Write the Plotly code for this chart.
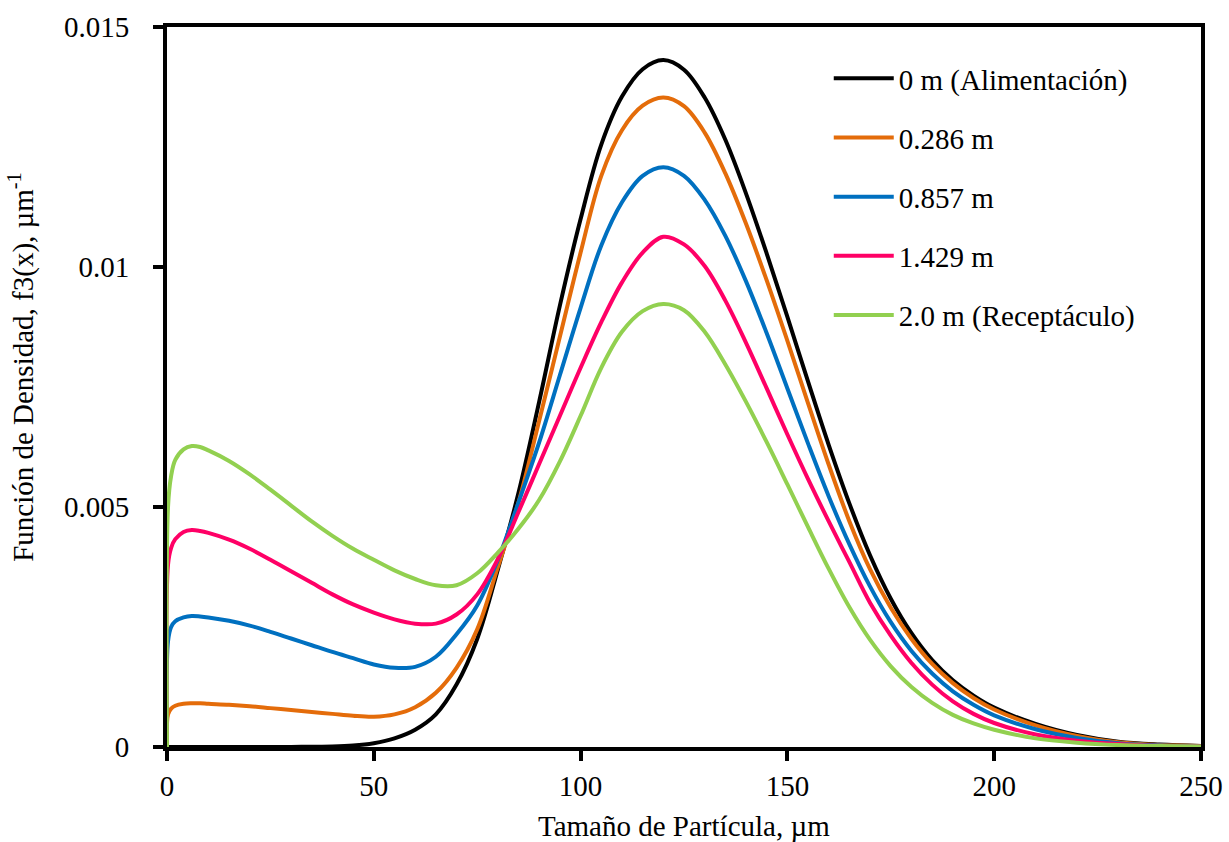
import plotly.graph_objects as go

# particle size, um
x = [0, 0.25, 1, 2, 4, 6, 8, 10, 15, 20, 25, 30, 35, 40, 45, 50, 55, 60, 65, 70,
     75, 80, 85, 90, 95, 100, 105, 110, 115, 120, 125, 130, 135, 140, 145, 150,
     155, 160, 165, 170, 175, 180, 185, 190, 195, 200, 210, 220, 230, 240, 250]

# density f3(x) at each height
f_0m = [0, 0, 0, 0, 0, 0, 0, 0, 0, 0, 0, 0.000002, 0.000005, 0.00001, 0.00003,
        0.00008, 0.00018, 0.00036, 0.00068, 0.00130, 0.00225, 0.00370, 0.00530,
        0.00720, 0.00920, 0.01100, 0.01255, 0.01355, 0.01412, 0.01431, 0.01411,
        0.01353, 0.01265, 0.01153, 0.01028, 0.00896, 0.00761, 0.00629, 0.00507,
        0.00399, 0.00309, 0.00237, 0.00181, 0.00139, 0.00107, 0.00082, 0.00048,
        0.00025, 0.00011, 0.00005, 0.00002]
f_0286 = [0, 0.00068, 0.00080, 0.00086, 0.00090, 0.00091, 0.00091, 0.00090,
          0.00088, 0.00085, 0.00081, 0.00077, 0.00073, 0.00069, 0.00065, 0.00063,
          0.00068, 0.00083, 0.00113, 0.00165, 0.00245, 0.00375, 0.00510, 0.00680,
          0.00855, 0.01030, 0.01190, 0.01285, 0.01336, 0.01353, 0.01335, 0.01280,
          0.01195, 0.01090, 0.00972, 0.00846, 0.00716, 0.00588, 0.00470, 0.00370,
          0.00290, 0.00225, 0.00173, 0.00133, 0.00102, 0.00078, 0.00045, 0.00023,
          0.00010, 0.00004, 0.00002]
f_0857 = [0, 0.0022, 0.00250, 0.00262, 0.00270, 0.00273, 0.00272, 0.00270,
          0.00263, 0.00253, 0.00240, 0.00226, 0.00212, 0.00198, 0.00185, 0.00172,
          0.00165, 0.00167, 0.00188, 0.00235, 0.00295, 0.00390, 0.00510, 0.00635,
          0.00775, 0.00915, 0.01045, 0.01135, 0.01190, 0.01208, 0.01190, 0.01140,
          0.01065, 0.00970, 0.00862, 0.00747, 0.00632, 0.00522, 0.00422, 0.00334,
          0.00260, 0.00200, 0.00153, 0.00116, 0.00088, 0.00066, 0.00037, 0.00019,
          0.00008, 0.00003, 0.00001]
f_1429 = [0, 0.0038, 0.00415, 0.00433, 0.00448, 0.00452, 0.00450, 0.00446,
          0.00432, 0.00413, 0.00390, 0.00366, 0.00342, 0.00318, 0.00297, 0.00280,
          0.00266, 0.00257, 0.00257, 0.00276, 0.00318, 0.00392, 0.00490, 0.00590,
          0.00690, 0.00790, 0.00885, 0.00968, 0.01030, 0.01063, 0.01047, 0.01002,
          0.00930, 0.00842, 0.00747, 0.00651, 0.00558, 0.00470, 0.00385, 0.00300,
          0.00232, 0.00175, 0.00130, 0.00095, 0.00069, 0.00050, 0.00026, 0.00013,
          0.00006, 0.00002, 0.00001]
f_20m = [0, 0.0050, 0.00565, 0.00598, 0.00620, 0.00627, 0.00625, 0.00618,
         0.00596, 0.00568, 0.00536, 0.00503, 0.00470, 0.00440, 0.00413, 0.00390,
         0.00368, 0.00350, 0.00337, 0.00337, 0.00362, 0.00405, 0.00455, 0.00515,
         0.00595, 0.00690, 0.00790, 0.00865, 0.00908, 0.00923, 0.00910, 0.00865,
         0.00797, 0.00719, 0.00635, 0.00547, 0.00458, 0.00371, 0.00291, 0.00223,
         0.00168, 0.00125, 0.00092, 0.00067, 0.00049, 0.00036, 0.00018, 0.00009,
         0.00004, 0.00002, 0.00001]

names = ["0 m (Alimentación)", "0.286 m", "0.857 m", "1.429 m", "2.0 m (Receptáculo)"]
series = [f_0m, f_0286, f_0857, f_1429, f_20m]
colors = ["#000000", "#E46C0A", "#0070C0", "#FF0066", "#92D050"]

font = "Times New Roman, Liberation Serif, Tinos, serif"

fig = go.Figure()
for i, (name, y, c) in enumerate(zip(names, series, colors)):
    fig.add_trace(go.Scatter(x=x, y=y, name=name, mode="lines",
                             line=dict(color=c, width=4, shape="spline", smoothing=1.0),
                             legendgroup=str(i)))

fig.update_layout(
    width=1229, height=842,
    margin=dict(l=167, r=28, t=27, b=95),
    paper_bgcolor="white", plot_bgcolor="white",
    font=dict(family=font, size=29, color="black"),
    showlegend=True,
    legend=dict(x=0.64, y=0.964, xanchor="left", yanchor="top",
                bgcolor="rgba(0,0,0,0)", tracegroupgap=18.5,
                font=dict(family=font, size=29), itemwidth=60),
)
fig.update_xaxes(range=[0, 250], tickvals=[0, 50, 100, 150, 200, 250],
                 showgrid=False, zeroline=False, showline=True, linewidth=4,
                 linecolor="black", mirror=True, ticks="outside", ticklen=10,
                 tickwidth=4, tickcolor="black", layer="below traces",
                 automargin=False, ticklabeloverflow="allow",
                 tickfont=dict(family=font, size=29))
fig.update_yaxes(range=[0, 0.015], tickvals=[0, 0.005, 0.01, 0.015],
                 ticktext=["0", "0.005", "0.01", "0.015"],
                 showgrid=False, zeroline=False, showline=True, linewidth=4,
                 linecolor="black", mirror=True, ticks="outside", ticklen=10,
                 tickwidth=4, tickcolor="black", layer="below traces",
                 automargin=False, tickfont=dict(family=font, size=29),
                 ticklabelstandoff=18)

# axis titles
fig.add_annotation(text="Tamaño de Partícula, µm", xref="paper", yref="paper",
                   x=0.5, y=-0.1097, xanchor="center", yanchor="middle",
                   showarrow=False, font=dict(family=font, size=29))
fig.add_annotation(text="Función de Densidad, f3(x), µm<sup>-1</sup>", xref="paper", yref="paper",
                   x=-0.1402, y=0.528, xanchor="center", yanchor="middle", textangle=-90,
                   showarrow=False, font=dict(family=font, size=29))

# drop the default 8px page margin so the figure fills the window
fig.write_html("out.html", config={"displayModeBar": False},
               post_script="document.body.style.margin='0';")
